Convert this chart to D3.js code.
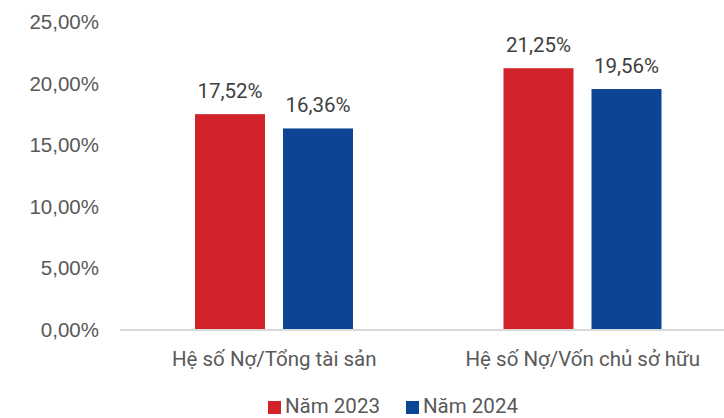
<!DOCTYPE html>
<html>
<head>
<meta charset="utf-8">
<style>
    body { margin: 0; background: #fff; }
    svg { display: block; font-family: Roboto, 'Noto Sans', sans-serif; }
    .y .domain, .y .tick line { display: none; }
    .y .tick text { font-size: 20.5px; fill: #595959; }
    .val { font-size: 20.5px; fill: #404040; }
    .cat { font-size: 20.5px; fill: #595959; }
    .legend text { font-size: 20.5px; fill: #595959; }
</style>
</head>
<body>
<svg width="724" height="418"></svg>
<script src="https://d3js.org/d3.v7.min.js"></script>
<script>
    // data
    let categories = ["Hệ số Nợ/Tổng tài sản", "Hệ số Nợ/Vốn chủ sở hữu"]
    let years = ["Năm 2023", "Năm 2024"]
    let values2023 = [17.52, 21.25]
    let values2024 = [16.36, 19.56]
    let yTicks = [0, 5, 10, 15, 20, 25]
    let colors = ["#D2232A", "#0D4594"]

    let svg = d3.select("svg")

    let data = categories.map((c, i) => ({
        cat: c,
        vals: [
            { year: years[0], v: values2023[i] },
            { year: years[1], v: values2024[i] }
        ]
    }))

    let x0 = d3.scaleBand()
        .domain(categories)
        .range([120, 737])

    let x1 = d3.scaleBand()
        .domain(years)
        .range([75, 233])
        .paddingInner(0.2045)

    let y = d3.scaleLinear()
        .domain([0, 25])
        .range([330, 22])

    let color = d3.scaleOrdinal().domain(years).range(colors)

    let fmt = v => d3.format(".2f")(v).replace(".", ",") + "%"

    // y axis
    svg.append("g")
        .attr("class", "y axis")
        .attr("transform", "translate(99,0)")
        .call(d3.axisLeft(y).tickValues(yTicks).tickSize(0).tickPadding(0).tickFormat(d => fmt(d)))

    // bars
    let groups = svg.append("g")
        .selectAll("g")
        .data(data)
        .join("g")
        .attr("transform", d => `translate(${x0(d.cat)},0)`)

    groups.selectAll("rect")
        .data(d => d.vals)
        .join("rect")
        .attr("x", d => x1(d.year))
        .attr("y", d => y(d.v))
        .attr("width", x1.bandwidth())
        .attr("height", d => y(0) - y(d.v))
        .attr("fill", d => color(d.year))

    groups.selectAll("text")
        .data(d => d.vals)
        .join("text")
        .attr("class", "val")
        .attr("x", d => x1(d.year) + x1.bandwidth() / 2)
        .attr("y", d => y(d.v) - 16)
        .attr("text-anchor", "middle")
        .text(d => fmt(d.v))

    // baseline
    svg.append("line")
        .attr("x1", 120).attr("x2", 737)
        .attr("y1", y(0)).attr("y2", y(0))
        .attr("stroke", "#d9d9d9")
        .attr("stroke-width", 2)

    // category labels
    svg.append("g")
        .selectAll("text")
        .data(categories)
        .join("text")
        .attr("class", "cat")
        .attr("x", d => x0(d) + x0.bandwidth() / 2)
        .attr("y", 366)
        .attr("text-anchor", "middle")
        .text(d => d)

    // legend
    let legend = svg.append("g")
        .attr("class", "legend")
        .selectAll("g")
        .data(years)
        .join("g")
        .attr("transform", (d, i) => `translate(${268 + i * 138},0)`)

    legend.append("rect")
        .attr("x", 0).attr("y", 401)
        .attr("width", 13).attr("height", 13)
        .attr("fill", d => color(d))

    legend.append("text")
        .attr("x", 17).attr("y", 413)
        .text(d => d)
</script>
</body>
</html>
